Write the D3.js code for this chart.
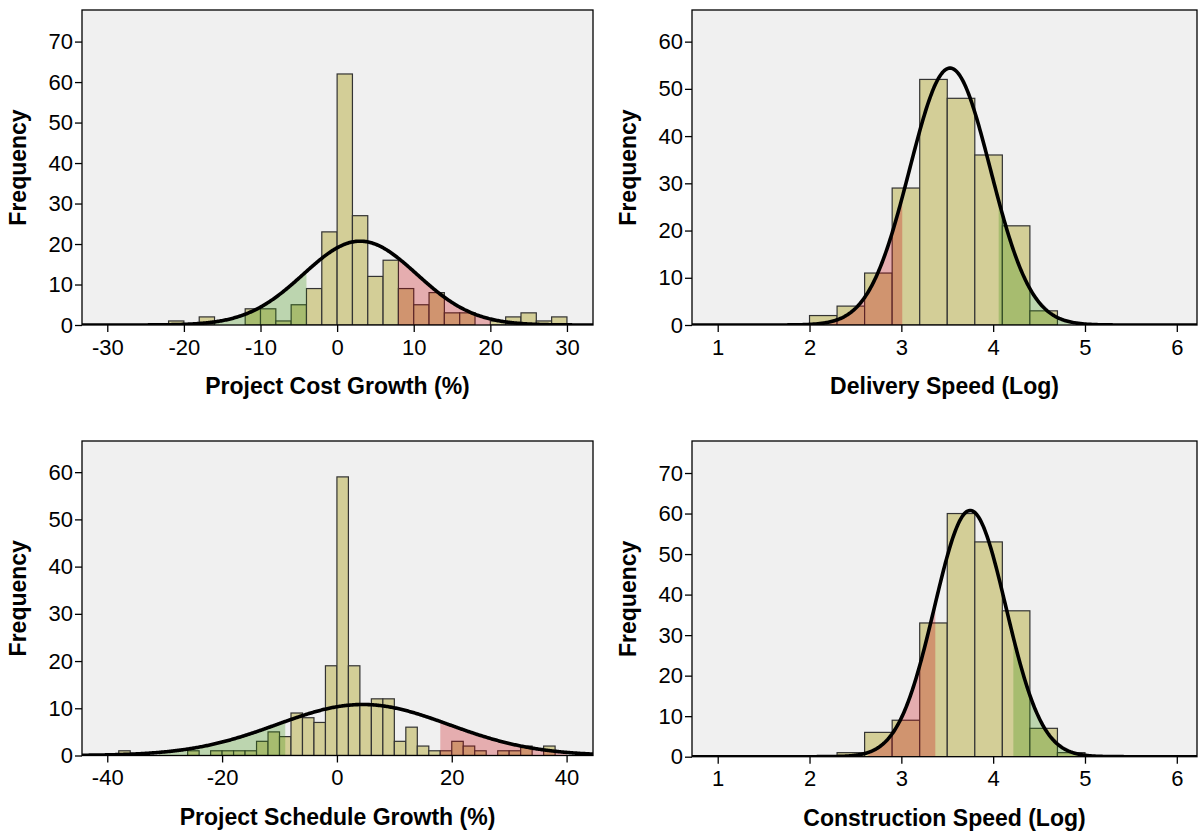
<!DOCTYPE html>
<html>
<head>
<meta charset="utf-8">
<script src="https://cdn.jsdelivr.net/npm/d3@7"></script>
<style>
  body { margin: 0; background: #fff; }
  text { font-family: "Liberation Sans", Arial, sans-serif; fill: #000; }
</style>
</head>
<body>
<svg id="chart" width="1198" height="832"></svg>
<script>
// histogram counts (bins of equal width from a start value)
const costStart = -22, costWidth = 2;
const costCounts = [1,0,2,0,0,4,4,1,5,9,23,62,27,12,16,9,5,8,3,3,0,1,2,3,1,2];
const costFit = {mean: 3.0, sd: 7.4, n: 192};
const costLow = [-16, -4], costHigh = [8, 20];

const deliveryStart = 2.0, deliveryWidth = 0.3;
const deliveryCounts = [2,4,11,29,52,48,36,21,3];
const deliveryFit = {mean: 3.53, sd: 0.44, n: 200};
const deliveryLow = [2.22, 3.01], deliveryHigh = [4.06, 4.85];

const scheduleStart = -38, scheduleWidth = 2;
const scheduleCounts = [1,0,0,0,0,0,1,0,1,1,1,1,3,5,4,9,8,7,19,59,19,11,12,12,3,6,2,1,1,3,2,1,0,1,1,2,0,2];
const scheduleFit = {mean: 4.5, sd: 15, n: 203};
const scheduleLow = [-31, -9], scheduleHigh = [18, 40];

const constructionStart = 2.3, constructionWidth = 0.3;
const constructionCounts = [1,6,9,33,60,53,36,7,1];
const constructionFit = {mean: 3.75, sd: 0.39, n: 198};
const constructionLow = [2.64, 3.37], constructionHigh = [4.22, 4.95];

// tick labels
const costTicks = [-30,-20,-10,0,10,20,30];
const scheduleTicks = [-40,-20,0,20,40];
const speedTicks = [1,2,3,4,5,6];
const freq70 = [0,10,20,30,40,50,60,70];
const freq60 = [0,10,20,30,40,50,60];

const RED = "rgba(200,0,8,0.28)";
const GREEN = "rgba(55,142,8,0.28)";

const svg = d3.select("#chart");

function panel(p) {
	let g = svg.append("g");
	let x = d3.scaleLinear().domain(p.xDomain).range([p.left, p.right]);
	let y = d3.scaleLinear().domain([0, p.yMax]).range([p.bottom, p.top]);

	let clipId = "clip" + p.id;
	svg.append("clipPath").attr("id", clipId).append("rect")
		.attr("x", p.left).attr("y", p.top)
		.attr("width", p.right - p.left).attr("height", p.bottom - p.top);

	g.append("rect")
		.attr("x", p.left).attr("y", p.top)
		.attr("width", p.right - p.left).attr("height", p.bottom - p.top)
		.attr("fill", "#f0f0f0");

	let inner = g.append("g").attr("clip-path", "url(#" + clipId + ")");

	let bins = p.counts.map((c, i) => ({x0: p.start + i * p.width, x1: p.start + (i + 1) * p.width, c: c}))
		.filter(d => d.c > 0);
	inner.selectAll(".bar").data(bins).join("rect")
		.attr("class", "bar")
		.attr("x", d => x(d.x0))
		.attr("y", d => y(d.c))
		.attr("width", d => x(d.x1) - x(d.x0))
		.attr("height", d => y(0) - y(d.c))
		.attr("fill", "#d3ce97")
		.attr("stroke", "#333")
		.attr("stroke-width", 1.2);

	let dens = v => p.fit.n * p.width / (p.fit.sd * Math.sqrt(2 * Math.PI)) *
		Math.exp(-0.5 * Math.pow((v - p.fit.mean) / p.fit.sd, 2));

	// shaded tails under the fitted curve
	let area = d3.area().x(v => x(v)).y0(y(0)).y1(v => y(dens(v)));
	p.bands.forEach(b => {
		let step = (b.range[1] - b.range[0]) / 200;
		let pts = d3.range(b.range[0], b.range[1], step).concat([b.range[1]]);
		inner.append("path").datum(pts).attr("d", area).attr("fill", b.color);
	});

	let dstep = (p.xDomain[1] - p.xDomain[0]) / 500;
	let curvePts = d3.range(p.xDomain[0], p.xDomain[1], dstep).concat([p.xDomain[1]]);
	inner.append("path").datum(curvePts)
		.attr("d", d3.line().x(v => x(v)).y(v => y(dens(v))))
		.attr("fill", "none")
		.attr("stroke", "#000")
		.attr("stroke-width", 3.6);

	g.append("rect")
		.attr("x", p.left).attr("y", p.top)
		.attr("width", p.right - p.left).attr("height", p.bottom - p.top)
		.attr("fill", "none")
		.attr("stroke", "#000")
		.attr("stroke-width", 1.3);

	let xAxis = g.append("g")
		.attr("transform", "translate(0," + p.bottom + ")")
		.call(d3.axisBottom(x).tickValues(p.xTicks).tickSize(7).tickPadding(7)
			.tickFormat(d => d < 0 ? "-" + Math.abs(d) : d));
	let yAxis = g.append("g")
		.attr("transform", "translate(" + p.left + ",0)")
		.call(d3.axisLeft(y).tickValues(p.yTicks).tickSize(7).tickPadding(2));
	[xAxis, yAxis].forEach(a => {
		a.select(".domain").remove();
		a.selectAll(".tick line").attr("stroke", "#000").attr("stroke-width", 1.3);
		a.selectAll(".tick text").attr("font-size", 22).attr("font-family", "Liberation Sans, Arial, sans-serif");
	});

	g.append("text")
		.attr("x", (p.left + p.right) / 2)
		.attr("y", p.bottom + 69)
		.attr("text-anchor", "middle")
		.attr("font-size", 23)
		.attr("font-weight", "bold")
		.text(p.xLabel);

	g.append("text")
		.attr("transform", "translate(" + (p.left - 56) + "," + ((p.top + p.bottom) / 2) + ") rotate(-90)")
		.attr("text-anchor", "middle")
		.attr("font-size", 23)
		.attr("font-weight", "bold")
		.text("Frequency");
}

panel({id: 1, left: 82, right: 593, top: 10, bottom: 325,
	xDomain: [-33.3, 33.4], yMax: 77.8, xTicks: costTicks, yTicks: freq70,
	start: costStart, width: costWidth, counts: costCounts, fit: costFit,
	bands: [{range: costLow, color: GREEN}, {range: costHigh, color: RED}],
	xLabel: "Project Cost Growth (%)"});

panel({id: 2, left: 692, right: 1197, top: 10, bottom: 325,
	xDomain: [0.72, 6.22], yMax: 66.7, xTicks: speedTicks, yTicks: freq60,
	start: deliveryStart, width: deliveryWidth, counts: deliveryCounts, fit: deliveryFit,
	bands: [{range: deliveryLow, color: RED}, {range: deliveryHigh, color: GREEN}],
	xLabel: "Delivery Speed (Log)"});

panel({id: 3, left: 82, right: 593, top: 441, bottom: 755.5,
	xDomain: [-44.4, 44.6], yMax: 66.6, xTicks: scheduleTicks, yTicks: freq60,
	start: scheduleStart, width: scheduleWidth, counts: scheduleCounts, fit: scheduleFit,
	bands: [{range: scheduleLow, color: GREEN}, {range: scheduleHigh, color: RED}],
	xLabel: "Project Schedule Growth (%)"});

panel({id: 4, left: 692, right: 1197, top: 441, bottom: 756.7,
	xDomain: [0.72, 6.22], yMax: 77.9, xTicks: speedTicks, yTicks: freq70,
	start: constructionStart, width: constructionWidth, counts: constructionCounts, fit: constructionFit,
	bands: [{range: constructionLow, color: RED}, {range: constructionHigh, color: GREEN}],
	xLabel: "Construction Speed (Log)"});
</script>
</body>
</html>
